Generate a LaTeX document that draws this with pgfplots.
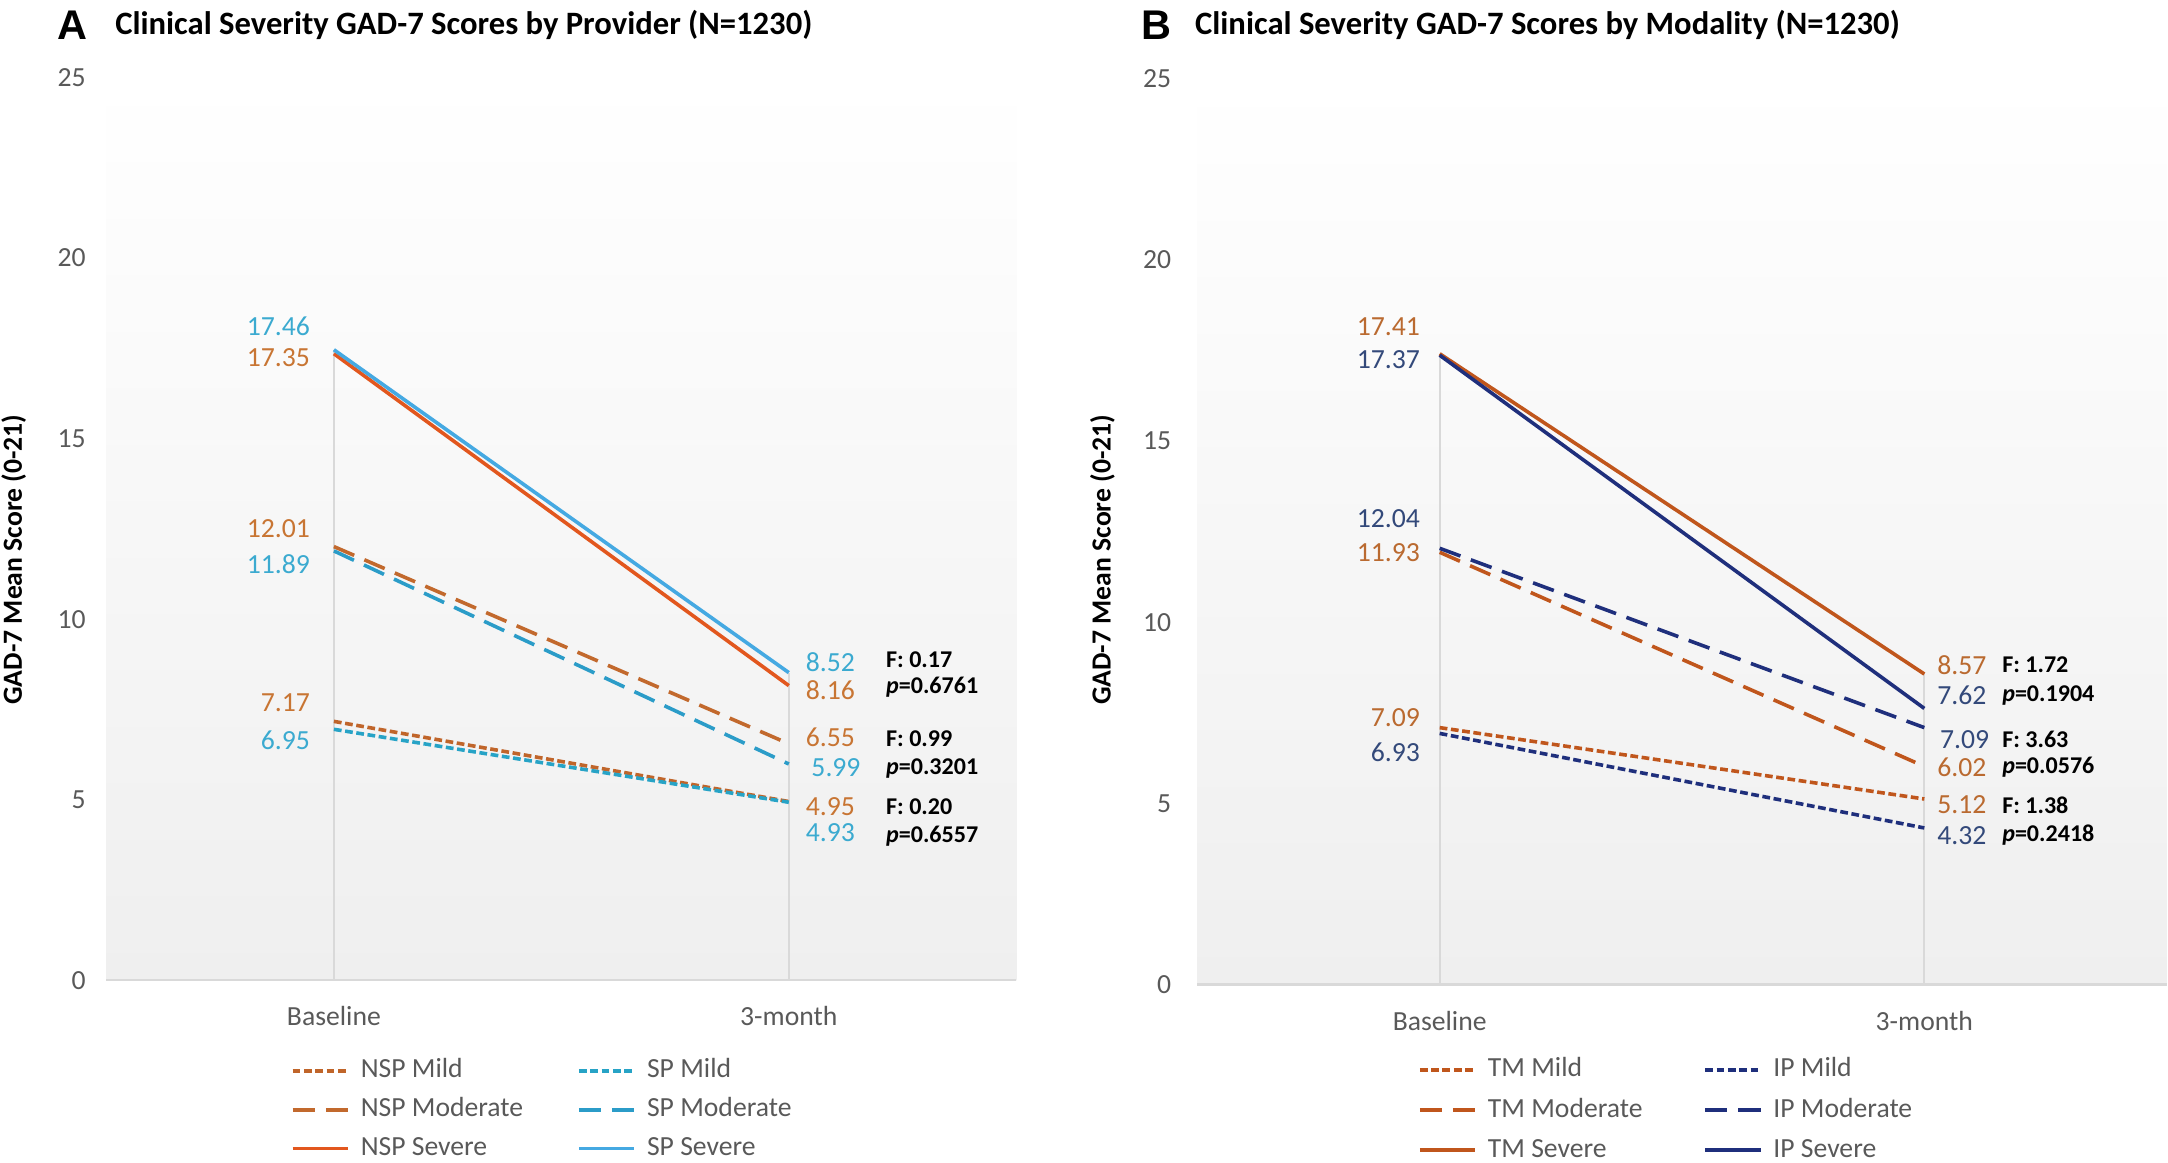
\documentclass[border=0pt]{standalone}
\usepackage{fontspec}
\setmainfont{Carlito}
\newfontfamily\panelfont{Liberation Sans}
\usepackage{pgfplots}
\pgfplotsset{compat=1.18}

\definecolor{nspmild}{HTML}{C0652A}
\definecolor{nspmod}{HTML}{C2692D}
\definecolor{nspsev}{HTML}{E2571E}
\definecolor{nsplab}{HTML}{C87533}
\definecolor{spmild}{HTML}{27A3C6}
\definecolor{spmod}{HTML}{2B9CC8}
\definecolor{spsev}{HTML}{45A9E2}
\definecolor{splab}{HTML}{3BAAD0}
\definecolor{tm}{HTML}{C0561C}
\definecolor{tmlab}{HTML}{BA6A30}
\definecolor{ip}{HTML}{1F2F7C}
\definecolor{iplab}{HTML}{33497A}
\definecolor{txtgray}{HTML}{595959}
\definecolor{axgray}{HTML}{D9D9D9}
\definecolor{bgbot}{HTML}{EFEFEF}

\pgfplotsset{
  gadstyle/.style={
    scale only axis,
    xmin=-0.5, xmax=1.5, ymin=0, ymax=25,
    xtick={0,1}, xticklabels={Baseline,3-month},
    ytick={0,5,...,25},
    /pgf/number format/assume math mode=true,
    axis line style={draw=none},
    major tick length=0pt,
    tick label style={font=\fontsize{10}{12}\selectfont, text=txtgray},
    xticklabel style={yshift=-6pt},
    ylabel={\bfseries GAD-7 Mean Score (0-21)},
    ylabel style={font=\fontsize{10.5}{12}\selectfont},
    axis background/.style={top color=white, bottom color=bgbot},
    legend columns=2,
    legend cell align=left,
    legend image code/.code={\draw[##1] (0pt,0pt) -- (20pt,0pt);},
    legend style={draw=none, fill=none, anchor=north west, inner sep=0pt,
      font=\fontsize{10}{12}\selectfont,
      nodes={inner sep=2pt, text height=7pt, text depth=2pt, text=txtgray},
      /tikz/every odd column/.append style={column sep=2pt}},
    clip=false,
  },
  mild/.style={line width=1.3pt, dash pattern=on 2.8pt off 1.3pt},
  moder/.style={line width=1.3pt, dash pattern=on 8pt off 4pt},
  sever/.style={line width=1.3pt},
  drop/.style={axgray, line width=0.7pt, forget plot},
}
\tikzset{
  val/.style={inner sep=0pt, font=\fontsize{10}{12}\selectfont},
  stat/.style={inner sep=0pt, anchor=west, font=\fontsize{8.7}{10}\selectfont\bfseries},
}

\begin{document}
\begin{tikzpicture}
\useasboundingbox (0pt,0pt) rectangle (784pt,-420.5pt);

% panel titles
\node[anchor=west, inner sep=0pt, font=\panelfont\fontsize{15}{17}\selectfont\bfseries] at (20.5pt,-9pt) {A};
\node[anchor=west, inner sep=0pt, font=\fontsize{11.8}{14}\selectfont\bfseries] at (41.5pt,-9pt) {Clinical Severity GAD-7 Scores by Provider (N=1230)};
\node[anchor=west, inner sep=0pt, font=\panelfont\fontsize{15}{17}\selectfont\bfseries] at (412.5pt,-9pt) {B};
\node[anchor=west, inner sep=0pt, font=\fontsize{11.8}{14}\selectfont\bfseries] at (432pt,-9pt) {Clinical Severity GAD-7 Scores by Modality (N=1230)};

% ---- panel A: provider
\begin{axis}[gadstyle,
  at={(38.5pt,-354.5pt)}, anchor=south west,
  width=329pt, height=326.5pt,
  yticklabel style={xshift=-4pt},
  every axis y label/.style={at={(axis description cs:-0.102,0.466)}, rotate=90, anchor=center},
  legend style={at={(0.202,-0.08)}, row sep=1pt,
    /tikz/every even column/.append style={column sep=17.5pt}},
]
\addplot[drop] coordinates {(0,0) (0,17.46)};
\addplot[drop] coordinates {(1,0) (1,8.52)};
\draw[axgray, line width=0.8pt] (rel axis cs:0,0) -- (rel axis cs:1,0);

\addplot[mild, nspmild] coordinates {(0,7.17) (1,4.95)};
\addlegendentry{NSP Mild}
\addplot[mild, spmild] coordinates {(0,6.95) (1,4.93)};
\addlegendentry{SP Mild}
\addplot[moder, nspmod] coordinates {(0,12.01) (1,6.55)};
\addlegendentry{NSP Moderate}
\addplot[moder, spmod] coordinates {(0,11.89) (1,5.99)};
\addlegendentry{SP Moderate}
\addplot[sever, nspsev] coordinates {(0,17.35) (1,8.16)};
\addlegendentry{NSP Severe}
\addplot[sever, spsev] coordinates {(0,17.46) (1,8.52)};
\addlegendentry{SP Severe}

% value labels
\node[val, anchor=east, xshift=-8.5pt, text=splab]  at (axis cs:0,18.11) {17.46};
\node[val, anchor=east, xshift=-8.5pt, text=nsplab] at (axis cs:0,17.23) {17.35};
\node[val, anchor=east, xshift=-8.5pt, text=nsplab] at (axis cs:0,12.52) {12.01};
\node[val, anchor=east, xshift=-8.5pt, text=splab]  at (axis cs:0,11.52) {11.89};
\node[val, anchor=east, xshift=-8.5pt, text=nsplab] at (axis cs:0,7.70) {7.17};
\node[val, anchor=east, xshift=-8.5pt, text=splab]  at (axis cs:0,6.66) {6.95};
\node[val, anchor=west, xshift=6pt, text=splab]  at (axis cs:1,8.81) {8.52};
\node[val, anchor=west, xshift=6pt, text=nsplab] at (axis cs:1,8.04) {8.16};
\node[val, anchor=west, xshift=6pt, text=nsplab] at (axis cs:1,6.74) {6.55};
\node[val, anchor=west, xshift=8pt, text=splab]  at (axis cs:1,5.90) {5.99};
\node[val, anchor=west, xshift=6pt, text=nsplab] at (axis cs:1,4.80) {4.95};
\node[val, anchor=west, xshift=6pt, text=splab]  at (axis cs:1,4.10) {4.93};
% F tests
\node[stat, xshift=35pt] at (axis cs:1,8.88) {F: 0.17};
\node[stat, xshift=35pt] at (axis cs:1,8.12) {\textit{p}=0.6761};
\node[stat, xshift=35pt] at (axis cs:1,6.70) {F: 0.99};
\node[stat, xshift=35pt] at (axis cs:1,5.86) {\textit{p}=0.3201};
\node[stat, xshift=35pt] at (axis cs:1,4.82) {F: 0.20};
\node[stat, xshift=35pt] at (axis cs:1,3.98) {\textit{p}=0.6557};
\end{axis}

% ---- panel B: modality
\begin{axis}[gadstyle,
  at={(433pt,-356pt)}, anchor=south west,
  width=350.5pt, height=327.5pt,
  yticklabel style={xshift=-6pt},
  every axis y label/.style={at={(axis description cs:-0.098,0.469)}, rotate=90, anchor=center},
  legend style={at={(0.227,-0.074)}, row sep=1.5pt,
    /tikz/every even column/.append style={column sep=20pt}},
]
\addplot[drop] coordinates {(0,0) (0,17.41)};
\addplot[drop] coordinates {(1,0) (1,8.57)};
\draw[axgray, line width=0.8pt] (rel axis cs:0,0) -- (rel axis cs:1,0);

\addplot[mild, tm] coordinates {(0,7.09) (1,5.12)};
\addlegendentry{TM Mild}
\addplot[mild, ip] coordinates {(0,6.93) (1,4.32)};
\addlegendentry{IP Mild}
\addplot[moder, tm] coordinates {(0,11.93) (1,6.02)};
\addlegendentry{TM Moderate}
\addplot[moder, ip] coordinates {(0,12.04) (1,7.09)};
\addlegendentry{IP Moderate}
\addplot[sever, tm] coordinates {(0,17.41) (1,8.57)};
\addlegendentry{TM Severe}
\addplot[sever, ip] coordinates {(0,17.37) (1,7.62)};
\addlegendentry{IP Severe}

\node[val, anchor=east, xshift=-7pt, text=tmlab] at (axis cs:0,18.17) {17.41};
\node[val, anchor=east, xshift=-7pt, text=iplab] at (axis cs:0,17.25) {17.37};
\node[val, anchor=east, xshift=-7pt, text=iplab] at (axis cs:0,12.86) {12.04};
\node[val, anchor=east, xshift=-7pt, text=tmlab] at (axis cs:0,11.91) {11.93};
\node[val, anchor=east, xshift=-7pt, text=tmlab] at (axis cs:0,7.37) {7.09};
\node[val, anchor=east, xshift=-7pt, text=iplab] at (axis cs:0,6.41) {6.93};
\node[val, anchor=west, xshift=4.5pt, text=tmlab] at (axis cs:1,8.82) {8.57};
\node[val, anchor=west, xshift=4.5pt, text=iplab] at (axis cs:1,7.98) {7.62};
\node[val, anchor=west, xshift=5.5pt, text=iplab] at (axis cs:1,6.76) {7.09};
\node[val, anchor=west, xshift=4.5pt, text=tmlab] at (axis cs:1,5.99) {6.02};
\node[val, anchor=west, xshift=4.5pt, text=tmlab] at (axis cs:1,4.96) {5.12};
\node[val, anchor=west, xshift=4.5pt, text=iplab] at (axis cs:1,4.12) {4.32};
\node[stat, xshift=28pt] at (axis cs:1,8.82) {F: 1.72};
\node[stat, xshift=28pt] at (axis cs:1,7.98) {\textit{p}=0.1904};
\node[stat, xshift=28pt] at (axis cs:1,6.76) {F: 3.63};
\node[stat, xshift=28pt] at (axis cs:1,5.99) {\textit{p}=0.0576};
\node[stat, xshift=28pt] at (axis cs:1,4.96) {F: 1.38};
\node[stat, xshift=28pt] at (axis cs:1,4.12) {\textit{p}=0.2418};
\end{axis}
\end{tikzpicture}
\end{document}
